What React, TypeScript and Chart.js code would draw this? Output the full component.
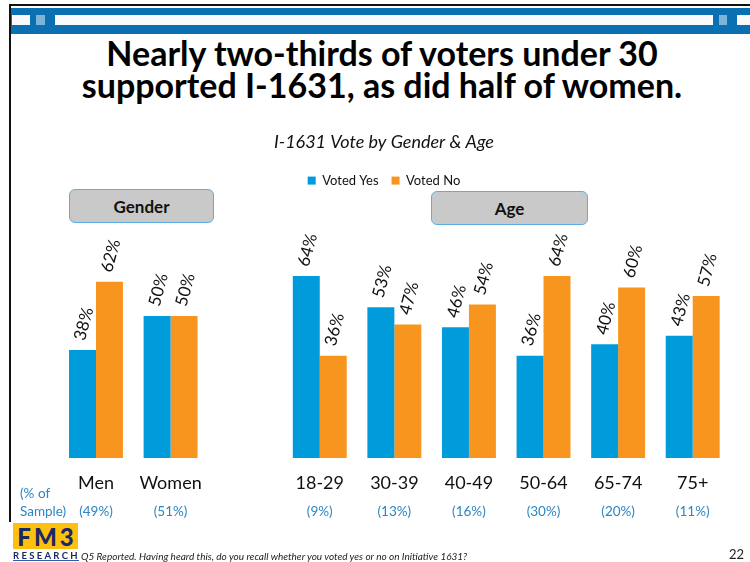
import React, { useEffect, useRef } from "react";
import { Chart, registerables } from "chart.js";

Chart.register(...registerables);

const categories = ["Men", "Women", "", "18-29", "30-39", "40-49", "50-64", "65-74", "75+"];
const votedYes = [38, 50, null, 64, 53, 46, 36, 40, 43];
const votedNo = [62, 50, null, 36, 47, 54, 64, 60, 57];
const sampleShares = ["(49%)", "(51%)", "", "(9%)", "(13%)", "(16%)", "(30%)", "(20%)", "(11%)"];
const seriesNames = ["Voted Yes", "Voted No"];
const sampleCaption = ["(% of", "Sample)"];
const chartTitle = "I-1631 Vote by Gender & Age";
const headline = ["Nearly two-thirds of voters under 30", "supported I-1631, as did half of women."];
const footnote = "Q5 Reported. Having heard this, do you recall whether you voted yes or no on Initiative 1631?";
const pageNumber = "22";

const FONT = "Lato, 'Open Sans', sans-serif";
const BLUE = "#009BDA";
const ORANGE = "#F7951F";
const SAMPLE_BLUE = "#2B86C2";

const barLabels = {
  id: "barLabels",
  afterDatasetsDraw(chart: any) {
    const ctx = chart.ctx;
    ctx.save();
    ctx.font = `17px ${FONT}`;
    ctx.fillStyle = "#111";
    ctx.textAlign = "left";
    ctx.textBaseline = "middle";
    chart.data.datasets.forEach((ds: any, di: number) => {
      const meta = chart.getDatasetMeta(di);
      meta.data.forEach((bar: any, i: number) => {
        const v = ds.data[i];
        if (v == null) return;
        ctx.save();
        ctx.translate(bar.x - 3, bar.y - 10);
        ctx.rotate((-75 * Math.PI) / 180);
        ctx.fillText(`${v}%`, 0, 0);
        ctx.restore();
      });
    });
    ctx.restore();
  },
};

const sampleLabels = {
  id: "sampleLabels",
  afterDraw(chart: any) {
    const ctx = chart.ctx;
    const xs = chart.scales.x;
    ctx.save();
    ctx.font = `13.5px ${FONT}`;
    ctx.fillStyle = SAMPLE_BLUE;
    ctx.textBaseline = "middle";
    ctx.textAlign = "center";
    sampleShares.forEach((s, i) => {
      if (!s) return;
      ctx.fillText(s, xs.getPixelForTick(i), 512);
    });
    ctx.textAlign = "left";
    ctx.fillText(sampleCaption[0], 20, 494);
    ctx.fillText(sampleCaption[1], 20, 512);
    ctx.restore();
  },
};

function BarChart() {
  const ref = useRef<HTMLCanvasElement>(null);
  useEffect(() => {
    if (!ref.current) return;
    const chart = new Chart(ref.current, {
      type: "bar",
      data: {
        labels: categories,
        datasets: [
          {
            label: seriesNames[0],
            data: votedYes,
            backgroundColor: BLUE,
            barPercentage: 1,
            categoryPercentage: 0.723,
          },
          {
            label: seriesNames[1],
            data: votedNo,
            backgroundColor: ORANGE,
            barPercentage: 1,
            categoryPercentage: 0.723,
          },
        ],
      },
      options: {
        animation: false,
        responsive: false,
        devicePixelRatio: 1,
        events: [],
        layout: { padding: { left: 38, right: 20, top: 0, bottom: 0 } },
        plugins: {
          title: {
            display: true,
            text: chartTitle,
            color: "#111",
            font: { family: FONT, size: 18, style: "italic", weight: "normal" },
            padding: { top: 131.2, bottom: 8.3 },
          },
          legend: {
            display: true,
            position: "top",
            labels: {
              boxWidth: 8,
              boxHeight: 8,
              padding: 13,
              color: "#111",
              font: { family: FONT, size: 13 },
            },
          },
          tooltip: { enabled: false },
        },
        scales: {
          x: {
            grid: { display: false },
            border: { display: false },
            ticks: { color: "#111", padding: 6, font: { family: FONT, size: 18 } },
            afterFit: (s: any) => {
              s.height = 104;
            },
          },
          y: {
            min: 0,
            max: 91.8,
            display: true,
            grid: { display: false },
            border: { display: false },
            ticks: { display: false },
            afterFit: (s: any) => {
              s.width = 20.7;
            },
          },
        },
      },
      plugins: [barLabels, sampleLabels],
    });
    return () => chart.destroy();
  }, []);
  return <canvas ref={ref} width={750} height={562} style={{ position: "absolute", left: 0, top: 0 }} />;
}

const box = (left: number, top: number, width: number, height: number, label: string) => (
  <div
    style={{
      position: "absolute",
      left,
      top,
      width,
      height,
      boxSizing: "border-box",
      background: "#C9C9C9",
      border: "1.5px solid #5AAEE3",
      borderRadius: 6,
      display: "flex",
      alignItems: "center",
      justifyContent: "center",
      font: `bold 17px ${FONT}`,
      color: "#111",
    }}
  >
    {label}
  </div>
);

export default function App() {
  return (
    <div
      style={{
        position: "absolute",
        left: 0,
        top: 0,
        width: 750,
        height: 562,
        background: "#fff",
        overflow: "hidden",
        fontFamily: FONT,
      }}
    >
      {/* slide frame */}
      <div style={{ position: "absolute", left: 9, top: 4, width: 741, height: 2, background: "#111" }} />
      <div style={{ position: "absolute", left: 9, top: 4, width: 2, height: 518, background: "#111" }} />
      <div style={{ position: "absolute", left: 11, top: 8, width: 739, height: 26, background: "#0B70B1" }} />
      <div style={{ position: "absolute", left: 12, top: 15, width: 18, height: 10, background: "#F8FAFC" }} />
      <div style={{ position: "absolute", left: 36, top: 15, width: 9, height: 10, background: "#7DB4DA" }} />
      <div style={{ position: "absolute", left: 55, top: 15, width: 658, height: 10, background: "#F8FAFC" }} />
      <div style={{ position: "absolute", left: 719, top: 15, width: 8, height: 10, background: "#7DB4DA" }} />
      <div style={{ position: "absolute", left: 737, top: 15, width: 13, height: 10, background: "#F8FAFC" }} />

      <div
        style={{
          position: "absolute",
          left: 0,
          top: 37,
          width: 764,
          textAlign: "center",
          font: `bold 34px ${FONT}`,
          lineHeight: "32px",
          color: "#000",
        }}
      >
        <div>{headline[0]}</div>
        <div>{headline[1]}</div>
      </div>

      <BarChart />

      {box(69, 189, 145, 34, "Gender")}
      {box(431, 191, 157, 34, "Age")}

      {/* logo */}
      <div
        style={{
          position: "absolute",
          left: 13,
          top: 523,
          width: 65,
          height: 26,
          background: "#FDC00F",
          color: "#1C2866",
          font: `900 24px ${FONT}`,
          letterSpacing: 3,
          lineHeight: "27px",
          textAlign: "center",
          paddingLeft: 3,
          boxSizing: "border-box",
          whiteSpace: "nowrap",
          overflow: "hidden",
        }}
      >
        FM3
      </div>
      <div
        style={{
          position: "absolute",
          left: 13,
          top: 550,
          width: 66,
          height: 11,
          borderBottom: "1.5px solid #2C5FA8",
          color: "#1C2866",
          font: `bold 9.5px ${FONT}`,
          letterSpacing: 2.3,
          lineHeight: "11px",
          boxSizing: "border-box",
          whiteSpace: "nowrap",
        }}
      >
        RESEARCH
      </div>
      <div
        style={{
          position: "absolute",
          left: 81,
          top: 550,
          font: `italic 10px ${FONT}`,
          color: "#222",
          whiteSpace: "nowrap",
          lineHeight: "12px",
        }}
      >
        {footnote}
      </div>
      <div
        style={{
          position: "absolute",
          left: 729,
          top: 547,
          font: `13px ${FONT}`,
          color: "#222",
          lineHeight: "15px",
        }}
      >
        {pageNumber}
      </div>
    </div>
  );
}
